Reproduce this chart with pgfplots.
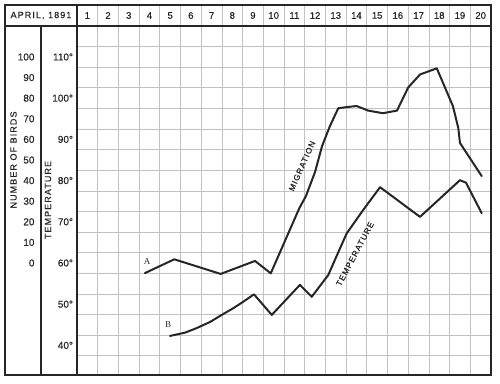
\documentclass[border=0pt]{standalone}
\usepackage{pgfplots}
\pgfplotsset{compat=1.18}
\usepackage{fontspec}
\setmainfont{Liberation Sans}[FakeBold=0.5]
\newfontfamily\lsp[LetterSpace=12, FakeBold=0.5]{Liberation Sans}
\newfontfamily\serifA{Liberation Serif}
\definecolor{gridc}{HTML}{C2C2C2}
\definecolor{ink}{HTML}{262626}

\pgfplotstableread{
day birds
3.78 -4.9
5.20 1.8
7.44 -5.3
9.10 1.0
9.86 -5.0
11.24 26.6
11.56 32.5
12.00 44.2
12.34 56.8
12.72 66.5
13.12 75.1
13.54 75.7
14.01 76.2
14.56 74.0
15.28 72.7
15.96 74.0
16.50 85.2
17.07 91.5
17.88 94.5
18.66 76.2
18.92 65.5
19.00 58.3
20.05 42.2
}\migration

\pgfplotstableread{
day temp
4.99 42.3
5.72 43.1
6.28 44.2
6.93 45.7
7.49 47.4
8.04 49.0
8.53 50.6
9.05 52.4
9.91 47.4
11.27 54.7
11.84 51.8
12.64 57.1
13.06 61.9
13.53 67.2
14.33 72.9
15.14 78.4
17.07 71.2
19.00 80.1
19.29 79.5
20.05 72.1
}\temperature

\begin{document}
\begin{tikzpicture}
\begin{axis}[
  at={(0pt,0pt)}, anchor=south west,
  scale only axis, width=414pt, height=370pt,
  xmin=0.5, xmax=20.5, ymin=32.82, ymax=122.62,
  axis line style={draw=none},
  xtick={1,...,20},
  xticklabels={1,2,3,4,5,6,7,8,9,10,11,12,13,14,15,16,17,18,19,20},
  xticklabel pos=upper,
  xticklabel style={anchor=center, yshift=-10.5pt, font=\fontsize{9.5}{10}\selectfont, text=ink},
  minor xtick={1.5,2.5,...,19.5},
  ytick={40,50,...,110},
  yticklabels={40°,50°,60°,70°,80°,90°,100°,110°},
  yticklabel style={font=\fontsize{10}{11}\selectfont, text=ink, xshift=-0.5pt},
  minor ytick={37.5,42.5,...,112.5},
  xminorgrids=true, yminorgrids=true,
  minor grid style={gridc, line width=0.8pt},
  major tick length=0pt, minor tick length=0pt,
]
\addplot[ink, line width=2pt, line join=round, line cap=round] table[x=day, y=temp] {\temperature};
\end{axis}
\begin{axis}[
  at={(0pt,0pt)}, anchor=south west,
  scale only axis, width=414pt, height=370pt,
  xmin=0.5, xmax=20.5, ymin=-54.36, ymax=125.24,
  axis line style={draw=none},
  xtick=\empty,
  ytick={0,10,...,100},
  yticklabels={0,10,20,30,40,50,60,70,80,90,100},
  yticklabel style={font=\fontsize{10}{11}\selectfont, text=ink, xshift=-39pt},
  major tick length=0pt,
]
\addplot[ink, line width=2pt, line join=round, line cap=round] table[x=day, y=birds] {\migration};
\end{axis}
% frame
\draw[ink, line width=1.4pt] (-72pt,0pt) rectangle (414pt,370pt);
\draw[ink, line width=1.4pt] (-72pt,349pt) -- (414pt,349pt);
\draw[ink, line width=1.4pt] (-36pt,0pt) -- (-36pt,349pt);
\draw[ink, line width=1.4pt] (0pt,0pt) -- (0pt,370pt);
% header and side titles
\node[font=\lsp\fontsize{9}{10}\selectfont, text=ink] at (-36pt,359.5pt) {APRIL, 1891};
\node[rotate=90, font=\lsp\fontsize{9}{10}\selectfont, text=ink] at (-63.5pt,215pt) {NUMBER OF BIRDS};
\node[rotate=90, font=\lsp\fontsize{9}{10}\selectfont, text=ink] at (-29pt,175pt) {TEMPERATURE};
% curve labels
\node[rotate=66, font=\lsp\fontsize{8.2}{9}\selectfont, text=ink] at (225pt,209pt) {MIGRATION};
\node[rotate=62, font=\lsp\fontsize{8.2}{9}\selectfont, text=ink] at (278pt,121pt) {TEMPERATURE};
\node[font=\serifA\fontsize{9}{10}\selectfont, text=ink] at (70pt,113pt) {A};
\node[font=\serifA\fontsize{9}{10}\selectfont, text=ink] at (91pt,50pt) {B};
\pgfresetboundingbox
\useasboundingbox (-77pt,-8pt) rectangle (423pt,375pt);
\end{tikzpicture}
\end{document}
